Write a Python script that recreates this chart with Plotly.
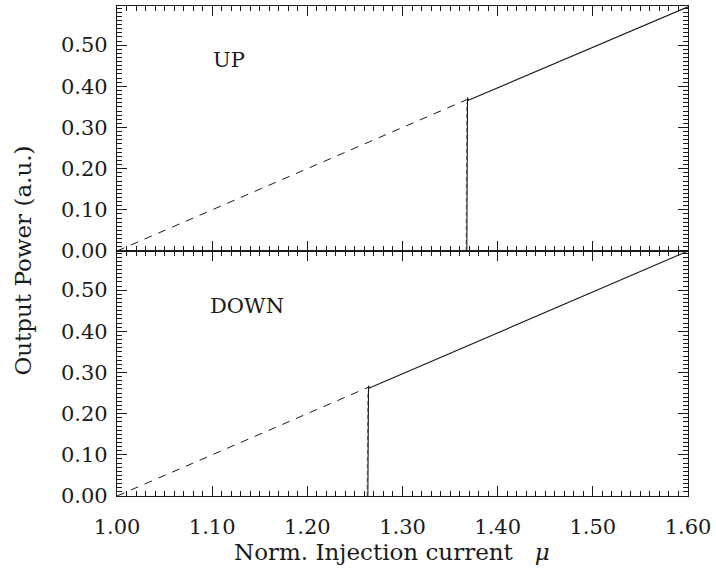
import plotly.graph_objects as go

# Output power vs normalised injection current, sweeping up and down
mu_dash_up = [1.00, 1.368]
p_dash_up = [0.0, 0.368]
mu_solid_up = [1.3676, 1.3679, 1.3683, 1.3692, 1.60]
p_solid_up = [0.0, 0.355, 0.373, 0.366, 0.593]
mu_jump_up = [1.3668, 1.3676]
p_jump_up = [0.0, 0.36]

mu_dash_down = [1.00, 1.264]
p_dash_down = [0.0, 0.264]
mu_solid_down = [1.2636, 1.2639, 1.2643, 1.2652, 1.60]
p_solid_down = [0.0, 0.252, 0.268, 0.262, 0.595]
mu_jump_down = [1.2628, 1.2636]
p_jump_down = [0.0, 0.255]

x_ticks = [1.0, 1.1, 1.2, 1.3, 1.4, 1.5, 1.6]
x_labels = ["1.00", "1.10", "1.20", "1.30", "1.40", "1.50", "1.60"]
y_ticks = [0.0, 0.1, 0.2, 0.3, 0.4, 0.5]
y_labels = ["0.00", "0.10", "0.20", "0.30", "0.40", "0.50"]

FONT = "DejaVu Serif"
INK = "#1a1a1a"

fig = go.Figure()

dash_style = dict(color=INK, width=1, dash="8px,7px")
solid_style = dict(color=INK, width=1.1)
jump_style = dict(color="#777777", width=1, dash="4px,3px")

# upper panel (sweep up)
fig.add_trace(go.Scatter(x=mu_dash_up, y=p_dash_up, mode="lines", line=dash_style,
                         xaxis="x2", yaxis="y2"))
fig.add_trace(go.Scatter(x=mu_jump_up, y=p_jump_up, mode="lines", line=jump_style,
                         xaxis="x2", yaxis="y2"))
fig.add_trace(go.Scatter(x=mu_solid_up, y=p_solid_up, mode="lines", line=solid_style,
                         xaxis="x2", yaxis="y2"))

# lower panel (sweep down)
fig.add_trace(go.Scatter(x=mu_dash_down, y=p_dash_down, mode="lines", line=dash_style,
                         xaxis="x", yaxis="y"))
fig.add_trace(go.Scatter(x=mu_jump_down, y=p_jump_down, mode="lines", line=jump_style,
                         xaxis="x", yaxis="y"))
fig.add_trace(go.Scatter(x=mu_solid_down, y=p_solid_down, mode="lines", line=solid_style,
                         xaxis="x", yaxis="y"))

common_x = dict(
    range=[1.0, 1.6], tickvals=x_ticks, ticktext=x_labels,
    ticks="inside", ticklen=10, tickwidth=1, tickcolor=INK,
    minor=dict(ticks="inside", ticklen=5, tickwidth=1, dtick=0.01, tick0=1.0, tickcolor=INK),
    showline=True, linecolor=INK, linewidth=1.2, mirror="allticks",
    showgrid=False, zeroline=False, ticklabelstandoff=12,
    tickfont=dict(family=FONT, size=21, color=INK),
)
common_y = dict(
    range=[0.0, 0.595], tickvals=y_ticks, ticktext=y_labels,
    ticks="inside", ticklen=10, tickwidth=1, tickcolor=INK,
    minor=dict(ticks="inside", ticklen=5, tickwidth=1, dtick=0.01, tick0=0.0, tickcolor=INK),
    showline=True, linecolor=INK, linewidth=1.2, mirror="allticks",
    showgrid=False, zeroline=False, ticklabelstandoff=4,
    tickfont=dict(family=FONT, size=21, color=INK),
)

fig.update_layout(
    width=716, height=573,
    margin=dict(l=117, r=28, t=6, b=77),
    paper_bgcolor="white", plot_bgcolor="white",
    showlegend=False,
    xaxis=dict(common_x, anchor="y", domain=[0, 1]),
    yaxis=dict(common_y, anchor="x", domain=[0, 0.5]),
    xaxis2=dict(common_x, anchor="y2", domain=[0, 1], matches="x", showticklabels=False),
    yaxis2=dict(common_y, anchor="x2", domain=[0.5, 1]),
    annotations=[
        dict(text="UP", x=1.118, y=0.464, xref="x2", yref="y2", showarrow=False,
             font=dict(family=FONT, size=21, color=INK)),
        dict(text="DOWN", x=1.137, y=0.461, xref="x", yref="y", showarrow=False,
             font=dict(family=FONT, size=21, color=INK)),
        dict(text="Norm. Injection current\u00a0\u00a0 <i>μ</i>", x=0.4816, y=-0.114,
             xref="paper", yref="paper", showarrow=False, xanchor="center", yanchor="middle",
             font=dict(family=FONT, size=23, color=INK)),
        dict(text="Output Power (a.u.)", x=-0.165, y=0.48, xref="paper", yref="paper",
             showarrow=False, textangle=-90, xanchor="center", yanchor="middle",
             font=dict(family=FONT, size=23, color=INK)),
    ],
)

fig.write_html("out.html")
